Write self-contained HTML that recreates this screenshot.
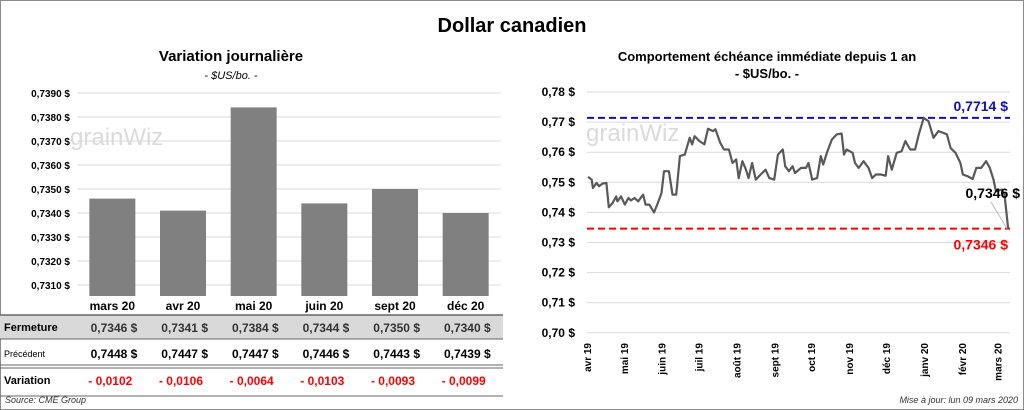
<!DOCTYPE html>
<html><head><meta charset="utf-8">
<style>
body{margin:0;width:1024px;height:410px;background:#fff;font-family:"Liberation Sans",Arial,sans-serif;overflow:hidden}
#frame{position:absolute;left:0;top:0;width:1022px;height:408px;border:1px solid #8c8c8c}
svg text{font-family:"Liberation Sans",Arial,sans-serif}
</style></head><body>
<div id="frame"></div>
<svg id="s" width="1024" height="410" style="position:absolute;left:0;top:0">
<text x="512" y="32" text-anchor="middle" font-size="20" font-weight="bold">Dollar canadien</text>
<text x="231" y="61" text-anchor="middle" font-size="15" font-weight="bold">Variation  journalière</text>
<text x="231" y="79" text-anchor="middle" font-size="11" font-style="italic">- $US/bo. -</text>
<text x="767" y="61" text-anchor="middle" font-size="13" font-weight="bold">Comportement échéance immédiate depuis 1 an</text>
<text x="767" y="78" text-anchor="middle" font-size="13" font-weight="bold">- $US/bo. -</text>
<g id="bars"></g>
<g id="line"></g>
<g id="table"></g>
<text x="5" y="403" font-size="9" font-style="italic" fill="#333">Source: CME Group</text>
<text x="1018" y="403" text-anchor="end" font-size="9" font-style="italic" fill="#333">Mise à jour: lun 09 mars 2020</text>
</svg>
<script>
const NS="http://www.w3.org/2000/svg";
const barCats=["mars 20","avr 20","mai 20","juin 20","sept 20","déc 20"];
const closeVals=[0.7346,0.7341,0.7384,0.7344,0.7350,0.7340];
const prevVals=[0.7448,0.7447,0.7447,0.7446,0.7443,0.7439];
const varVals=[-0.0102,-0.0106,-0.0064,-0.0103,-0.0093,-0.0099];
const barTicks=[0.7310,0.7320,0.7330,0.7340,0.7350,0.7360,0.7370,0.7380,0.7390];
const lineDays=[0,3,4,7,9,12,15,17,20,23,24,27,30,33,35,38,41,45,47,50,54,57,60,62,66,69,72,75,79,83,85,87,91,95,98,102,104,108,111,115,118,121,123,126,129,131,134,137,141,145,148,152,155,159,161,164,167,169,174,178,180,183,187,190,192,195,199,203,207,209,211,216,218,221,225,229,232,235,239,243,245,248,252,256,259,263,267,270,274,278,282,286,290,293,296,300,304,306,310,314,317,321,325,328,331,333,338,340,343];
const lineVals=[.7518,.7509,.7481,.7498,.7487,.7496,.7498,.7417,.7431,.7453,.7437,.7453,.7426,.7448,.7440,.7448,.7437,.7459,.7426,.7426,.7400,.7431,.7464,.7537,.7537,.7459,.7459,.7587,.7592,.7648,.7626,.7653,.7637,.7626,.7678,.7670,.7676,.7631,.7609,.7609,.7564,.7576,.7514,.7570,.7542,.7514,.7564,.7509,.7526,.7542,.7514,.7509,.7592,.7609,.7553,.7537,.7553,.7531,.7548,.7548,.7564,.7509,.7514,.7587,.7559,.7598,.7642,.7659,.7662,.7592,.7609,.7598,.7564,.7548,.7570,.7548,.7514,.7526,.7526,.7522,.7587,.7542,.7598,.7603,.7637,.7609,.7609,.7659,.7714,.7703,.7648,.7670,.7664,.7659,.7614,.7598,.7564,.7526,.7520,.7511,.7548,.7548,.7570,.7548,.7509,.7470,.7476,.7459,.7346];
const lineTicks=[0.70,0.71,0.72,0.73,0.74,0.75,0.76,0.77,0.78];
const monthLabels=["avr 19","mai 19","juin 19","juil 19","août 19","sept 19","oct 19","nov 19","déc 19","janv 20","févr 20","mars 20"];
const monthDays=[0,30,61,91,122,153,183,214,244,275,306,335];
const maxVal=0.7714, lastVal=0.7346;
function el(p,t,a,txt){const e=document.createElementNS(NS,t);for(const k in a)e.setAttribute(k,a[k]);if(txt!==undefined)e.textContent=txt;p.appendChild(e);return e;}
const fmt4=v=>v.toFixed(4).replace('.',',');
const fmt2=v=>v.toFixed(2).replace('.',',');
// bar chart
const gb=document.getElementById('bars');
const by=v=>93+(0.7390-v)*24000, bx0=77, bw=424/6;
barTicks.forEach(t=>{const l=el(gb,'line',{x1:77,x2:501,y1:by(t),y2:by(t),stroke:'#d9d9d9'});

const tx=el(gb,'text',{x:70,y:by(t)+4,'text-anchor':'end','font-size':10,'font-weight':'bold'},fmt4(t)+' $');
});
const wm=el(gb,'text',{x:70,y:145,'font-size':24,fill:'#dadada'},'grainWiz');

closeVals.forEach((v,i)=>{const cx=bx0+bw*(i+0.5);const r=el(gb,'rect',{x:cx-23,y:by(v),width:46,height:296-by(v),fill:'#808080'});
});
// table
const gt=document.getElementById('table');
const rr=el(gt,'rect',{x:0,y:315,width:503,height:24,fill:'#d9d9d9'});
[[0,315,1.5],[0,339,1],[0,365,1],[0,368,1],[0,396,1]].forEach(a=>{const l=el(gt,'line',{x1:0,x2:503,y1:a[1],y2:a[1],stroke:'#666','stroke-width':a[2]});});
const rl=[["Fermeture",331,11,'bold'],["Précédent",357,9,'normal'],["Variation",384,11,'bold']];
rl.forEach(r=>{const t=el(gt,'text',{x:4,y:r[1],'font-size':r[2],'font-weight':r[3]},r[0]);});
barCats.forEach((c,i)=>{const cx=bx0+bw*(i+0.5);
let t=el(gt,'text',{x:cx,y:310,'text-anchor':'middle','font-size':12,'font-weight':'bold'},c);
t=el(gt,'text',{x:cx+25,y:332,'text-anchor':'end','font-size':12,'font-weight':'bold',fill:'#333'},fmt4(closeVals[i])+'  $');
t=el(gt,'text',{x:cx+25,y:358,'text-anchor':'end','font-size':12,'font-weight':'bold'},fmt4(prevVals[i])+'  $');
const d=varVals[i];
t=el(gt,'text',{x:cx-2,y:385,'text-anchor':'middle','font-size':12,'font-weight':'bold',fill:'#ff0000'},(d<0?'- ':'+ ')+fmt4(Math.abs(d)));});
// line chart
const gl=document.getElementById('line');
const ly=v=>92+(0.78-v)*3010, lx=d=>588+d*1.225;
lineTicks.forEach(t=>{const l=el(gl,'line',{x1:587,x2:1010,y1:ly(t),y2:ly(t),stroke:'#d9d9d9'});
const tx=el(gl,'text',{x:575,y:ly(t)+4,'text-anchor':'end','font-size':12,'font-weight':'bold'},fmt2(t)+' $');});
const wm2=el(gl,'text',{x:586,y:141,'font-size':24,fill:'#dadada'},'grainWiz');
monthLabels.forEach((m,i)=>{const x=lx(monthDays[i])+3;const t=el(gl,'text',{x:x,y:343,'text-anchor':'end','font-size':10,'font-weight':'bold',transform:`rotate(-90 ${x} 343)`},m);});
let l=el(gl,'line',{x1:587,x2:1010,y1:ly(maxVal),y2:ly(maxVal),stroke:'#1010c0','stroke-width':2,'stroke-dasharray':'7,4'});
l=el(gl,'line',{x1:587,x2:1010,y1:ly(lastVal),y2:ly(lastVal),stroke:'#ff0000','stroke-width':2,'stroke-dasharray':'7,4'});
const pts=lineVals.map((v,i)=>lx(lineDays[i]).toFixed(1)+','+ly(v).toFixed(1)).join(' ');
const pl=el(gl,'polyline',{points:pts,fill:'none',stroke:'#595959','stroke-width':2.2,'stroke-linejoin':'round'});
let t=el(gl,'text',{x:1008,y:ly(maxVal)-7,'text-anchor':'end','font-size':14,'font-weight':'bold',fill:'#1010c0'},fmt4(maxVal)+' $');
t=el(gl,'text',{x:1008,y:ly(lastVal)+21,'text-anchor':'end','font-size':14,'font-weight':'bold',fill:'#ff0000'},fmt4(lastVal)+' $');
t=el(gl,'text',{x:1020,y:198,'text-anchor':'end','font-size':14,'font-weight':'bold'},fmt4(lastVal)+' $');
l=el(gl,'line',{x1:991,y1:202,x2:1007,y2:ly(lastVal),stroke:'#bbb'});
</script>
</body></html>
